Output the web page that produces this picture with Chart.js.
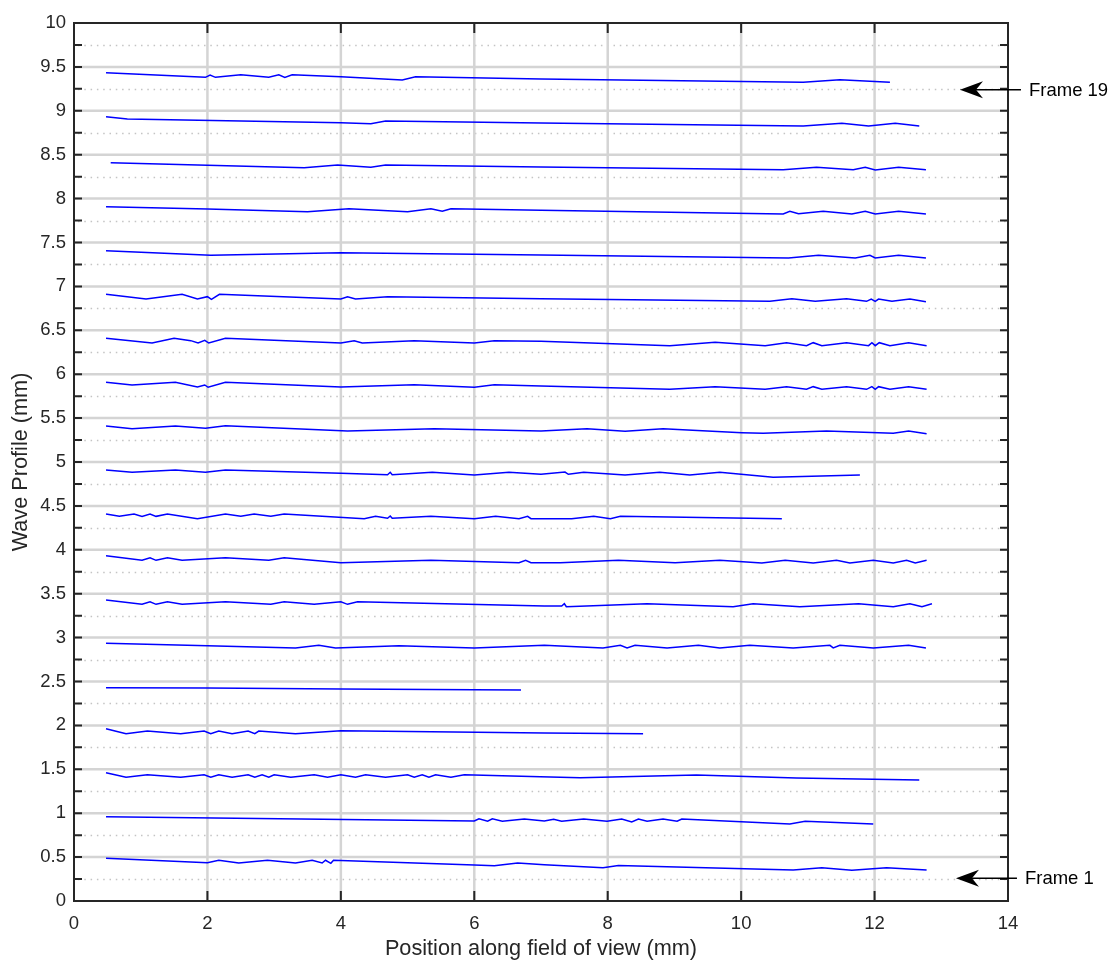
<!DOCTYPE html>
<html>
<head>
<meta charset="utf-8">
<script src="https://cdn.jsdelivr.net/npm/chart.js@4/dist/chart.umd.min.js"></script>
<style>
  html, body { margin: 0; padding: 0; background: #fff; }
  canvas { display: block; }
</style>
</head>
<body>
<canvas id="chart-wave" width="1114" height="963"></canvas>
<script>
// wave profile per frame: [position (mm), height (mm)]
const frame01 = [[0.48,0.486],[2.0,0.436],[2.17,0.464],[2.47,0.433],[2.9,0.464],[3.32,0.433],[3.57,0.464],[3.72,0.433],[3.77,0.464],[3.85,0.429],[3.89,0.464],[6.0,0.41],[6.3,0.402],[6.65,0.433],[7.05,0.413],[7.93,0.379],[8.16,0.405],[10.78,0.353],[11.21,0.379],[11.66,0.349],[12.18,0.379],[12.78,0.353]];
const frame02 = [[0.48,0.96],[6.0,0.911],[6.07,0.937],[6.2,0.908],[6.27,0.937],[6.42,0.908],[6.75,0.934],[7.05,0.911],[7.19,0.931],[7.31,0.908],[7.64,0.934],[7.99,0.908],[8.21,0.934],[8.36,0.9],[8.46,0.934],[8.59,0.908],[8.83,0.934],[9.04,0.908],[9.11,0.934],[10.73,0.877],[10.96,0.908],[11.98,0.877]];
const frame03 = [[0.48,1.461],[0.78,1.409],[1.1,1.438],[1.6,1.409],[1.95,1.438],[2.05,1.409],[2.17,1.438],[2.37,1.409],[2.61,1.438],[2.71,1.409],[2.82,1.438],[2.92,1.409],[3.0,1.438],[3.25,1.409],[3.6,1.438],[3.8,1.409],[4.0,1.438],[4.22,1.409],[4.37,1.438],[4.67,1.409],[5.0,1.438],[5.1,1.409],[5.22,1.438],[5.32,1.409],[5.42,1.438],[5.65,1.409],[5.85,1.438],[6.99,1.416],[7.59,1.404],[9.33,1.435],[10.83,1.401],[12.67,1.378]];
const frame04 = [[0.48,1.962],[0.78,1.905],[1.1,1.936],[1.6,1.905],[1.95,1.936],[2.05,1.905],[2.17,1.936],[2.37,1.905],[2.61,1.936],[2.71,1.905],[2.77,1.936],[3.32,1.905],[4.0,1.94],[7.05,1.913],[8.53,1.905]];
const frame05 = [[0.48,2.43],[2.0,2.425],[4.0,2.415],[6.0,2.407],[6.7,2.404]];
const frame06 = [[0.48,2.935],[2.0,2.908],[3.32,2.882],[3.67,2.912],[3.92,2.882],[4.87,2.908],[6.0,2.882],[7.05,2.912],[7.93,2.882],[8.19,2.912],[8.29,2.882],[8.41,2.912],[8.89,2.882],[9.36,2.912],[9.68,2.882],[10.13,2.912],[10.78,2.882],[11.33,2.912],[11.38,2.882],[11.48,2.912],[11.98,2.882],[12.51,2.912],[12.77,2.882]];
const frame07 = [[0.48,3.428],[1.02,3.379],[1.14,3.409],[1.23,3.379],[1.4,3.409],[1.62,3.379],[2.27,3.409],[2.95,3.379],[3.15,3.409],[3.6,3.379],[4.0,3.409],[4.1,3.379],[4.25,3.409],[7.05,3.36],[7.31,3.36],[7.35,3.386],[7.38,3.352],[8.59,3.386],[9.88,3.352],[10.18,3.386],[10.88,3.352],[11.76,3.386],[12.28,3.352],[12.53,3.386],[12.71,3.352],[12.86,3.386]];
const frame08 = [[0.48,3.933],[1.02,3.88],[1.14,3.91],[1.23,3.88],[1.4,3.91],[1.62,3.88],[2.27,3.91],[2.92,3.88],[3.15,3.91],[4.0,3.853],[5.35,3.88],[6.67,3.853],[6.77,3.88],[6.85,3.853],[7.29,3.853],[8.16,3.88],[9.01,3.853],[9.68,3.88],[10.31,3.85],[10.66,3.88],[11.08,3.85],[11.43,3.88],[11.63,3.85],[11.98,3.88],[12.28,3.85],[12.48,3.88],[12.61,3.85],[12.78,3.88]];
const frame09 = [[0.48,4.408],[0.68,4.381],[0.9,4.408],[1.02,4.381],[1.14,4.408],[1.23,4.381],[1.4,4.408],[1.85,4.354],[2.27,4.408],[2.5,4.381],[2.7,4.408],[2.95,4.381],[3.15,4.408],[4.35,4.354],[4.52,4.381],[4.7,4.359],[4.74,4.385],[4.77,4.359],[5.35,4.381],[6.0,4.354],[6.32,4.381],[6.67,4.354],[6.8,4.381],[6.85,4.354],[7.46,4.354],[7.79,4.381],[8.04,4.354],[8.19,4.381],[10.61,4.354]];
const frame10 = [[0.48,4.909],[0.87,4.883],[1.52,4.909],[1.97,4.883],[2.27,4.909],[4.0,4.871],[4.7,4.855],[4.74,4.883],[4.77,4.855],[5.37,4.883],[6.0,4.852],[6.52,4.883],[7.0,4.86],[7.36,4.886],[7.41,4.86],[7.64,4.883],[8.26,4.852],[8.78,4.883],[9.23,4.852],[9.68,4.883],[10.48,4.826],[11.78,4.852]];
const frame11 = [[0.48,5.41],[0.87,5.379],[1.52,5.41],[1.97,5.384],[2.27,5.413],[4.1,5.353],[5.4,5.379],[7.0,5.353],[7.69,5.379],[8.26,5.35],[8.83,5.379],[10.01,5.334],[10.33,5.327],[11.28,5.353],[12.28,5.327],[12.51,5.353],[12.78,5.322]];
const frame12 = [[0.48,5.908],[0.87,5.877],[1.52,5.908],[1.85,5.854],[1.96,5.877],[2.01,5.851],[2.27,5.908],[4.0,5.854],[5.1,5.88],[6.0,5.851],[6.3,5.88],[7.0,5.866],[8.93,5.828],[9.61,5.858],[10.36,5.828],[10.68,5.858],[10.98,5.828],[11.08,5.858],[11.21,5.828],[11.58,5.858],[11.88,5.828],[11.96,5.858],[12.01,5.828],[12.06,5.858],[12.23,5.828],[12.51,5.858],[12.78,5.828]];
const frame13 = [[0.48,6.409],[1.17,6.355],[1.5,6.409],[1.75,6.382],[1.86,6.355],[1.96,6.386],[2.02,6.355],[2.27,6.409],[4.0,6.355],[4.2,6.382],[4.32,6.355],[5.1,6.382],[6.0,6.355],[6.3,6.382],[7.0,6.375],[8.93,6.325],[9.61,6.363],[10.36,6.325],[10.68,6.359],[10.98,6.325],[11.08,6.359],[11.21,6.325],[11.58,6.359],[11.91,6.325],[11.96,6.359],[12.01,6.325],[12.07,6.359],[12.23,6.325],[12.51,6.359],[12.78,6.325]];
const frame14 = [[0.48,6.91],[1.08,6.856],[1.62,6.91],[1.85,6.856],[2.0,6.883],[2.06,6.853],[2.18,6.91],[4.0,6.856],[4.1,6.883],[4.22,6.856],[4.7,6.883],[7.0,6.86],[10.43,6.83],[10.76,6.86],[11.11,6.83],[11.58,6.86],[11.88,6.83],[11.95,6.856],[12.01,6.83],[12.06,6.856],[12.26,6.83],[12.53,6.856],[12.77,6.826]];
const frame15 = [[0.48,7.407],[2.05,7.354],[4.0,7.384],[7.0,7.358],[10.71,7.324],[11.16,7.354],[11.71,7.324],[11.93,7.354],[12.01,7.324],[12.36,7.354],[12.77,7.324]];
const frame16 = [[0.48,7.908],[2.0,7.882],[3.5,7.851],[4.12,7.885],[5.0,7.851],[5.35,7.885],[5.52,7.855],[5.65,7.885],[7.0,7.867],[10.63,7.825],[10.73,7.855],[10.86,7.828],[11.23,7.855],[11.66,7.825],[11.86,7.855],[12.01,7.825],[12.36,7.855],[12.77,7.825]];
const frame17 = [[0.55,8.409],[2.0,8.379],[3.45,8.352],[3.95,8.383],[4.45,8.357],[4.67,8.383],[7.0,8.36],[10.63,8.329],[11.13,8.357],[11.68,8.329],[11.86,8.357],[12.01,8.326],[12.36,8.357],[12.77,8.329]];
const frame18 = [[0.48,8.933],[0.8,8.907],[4.0,8.865],[4.45,8.853],[4.67,8.884],[7.0,8.861],[10.93,8.827],[11.51,8.858],[11.91,8.827],[12.31,8.858],[12.67,8.827]];
const frame19 = [[0.48,9.434],[1.97,9.381],[2.04,9.408],[2.12,9.381],[2.5,9.411],[2.92,9.381],[3.07,9.411],[3.16,9.381],[3.27,9.411],[4.0,9.388],[4.92,9.351],[5.12,9.388],[7.0,9.362],[10.93,9.325],[11.48,9.354],[12.23,9.325]];

const frames = [frame01, frame02, frame03, frame04, frame05, frame06, frame07, frame08, frame09, frame10,
  frame11, frame12, frame13, frame14, frame15, frame16, frame17, frame18, frame19];

// axis ranges and annotations
const xRange = [0, 14];
const yRange = [0, 10];
const xTickStep = 2;
const yTickStep = 0.5;
const yMinorStep = 0.25;
const noteLabels = ["Frame 19", "Frame 1"];
const noteY = [9.24, 0.26];
const noteTipX = [13.28, 13.22];

const FONT = '"Liberation Sans", Arial, sans-serif';
const INK = "#262626";

const frameStyle = {
  id: "frameStyle",
  beforeDatasetsDraw(chart) {
    const { ctx, chartArea: a, scales: { x, y } } = chart;
    ctx.save();
    ctx.beginPath();
    ctx.rect(a.left, a.top, a.right - a.left, a.bottom - a.top);
    ctx.clip();
    // minor dotted lines
    ctx.strokeStyle = "#c4c4c4";
    ctx.lineWidth = 1.5;
    ctx.setLineDash([1.5, 4.8]);
    for (let v = yRange[0] + yMinorStep; v < yRange[1]; v += yTickStep) {
      const py = Math.round(y.getPixelForValue(v)) + 0.5;
      ctx.beginPath(); ctx.moveTo(a.left + 4, py); ctx.lineTo(a.right, py); ctx.stroke();
    }
    ctx.setLineDash([]);
    ctx.strokeStyle = "#d4d4d4";
    ctx.lineWidth = 2.5;
    for (let v = yRange[0] + yTickStep; v < yRange[1]; v += yTickStep) {
      const py = y.getPixelForValue(v);
      ctx.beginPath(); ctx.moveTo(a.left, py); ctx.lineTo(a.right, py); ctx.stroke();
    }
    for (let v = xRange[0] + xTickStep; v < xRange[1]; v += xTickStep) {
      const px = x.getPixelForValue(v);
      ctx.beginPath(); ctx.moveTo(px, a.top); ctx.lineTo(px, a.bottom); ctx.stroke();
    }
    ctx.restore();
  },
  afterDatasetsDraw(chart) {
    const { ctx, chartArea: a, scales: { x, y } } = chart;
    ctx.save();
    ctx.strokeStyle = INK;
    ctx.lineWidth = 2;
    ctx.strokeRect(a.left, a.top, a.right - a.left, a.bottom - a.top);
    ctx.beginPath();
    for (let v = yRange[0] + yMinorStep; v < yRange[1]; v += yMinorStep) {
      const py = y.getPixelForValue(v);
      ctx.moveTo(a.left, py); ctx.lineTo(a.left + 8, py);
      ctx.moveTo(a.right, py); ctx.lineTo(a.right - 8, py);
    }
    for (let v = xRange[0] + xTickStep; v < xRange[1]; v += xTickStep) {
      const px = x.getPixelForValue(v);
      ctx.moveTo(px, a.bottom); ctx.lineTo(px, a.bottom - 10);
      ctx.moveTo(px, a.top); ctx.lineTo(px, a.top + 10);
    }
    ctx.stroke();

    // arrows with labels
    ctx.fillStyle = "#000";
    ctx.strokeStyle = "#000";
    ctx.lineWidth = 1.5;
    ctx.font = `18.5px ${FONT}`;
    ctx.textBaseline = "middle";
    noteLabels.forEach((label, i) => {
      const tx = x.getPixelForValue(noteTipX[i]);
      const ty = y.getPixelForValue(noteY[i]);
      ctx.beginPath(); ctx.moveTo(tx + 10, ty); ctx.lineTo(tx + 61, ty); ctx.stroke();
      ctx.beginPath();
      ctx.moveTo(tx, ty);
      ctx.lineTo(tx + 23, ty - 8.5);
      ctx.lineTo(tx + 16, ty);
      ctx.lineTo(tx + 23, ty + 8.5);
      ctx.closePath();
      ctx.fill();
      ctx.fillText(label, tx + 69, ty + 1);
    });
    ctx.restore();
  },
};

function isMajor(v) {
  return Math.abs(v / yTickStep - Math.round(v / yTickStep)) < 1e-6;
}

new Chart(document.getElementById("chart-wave"), {
  type: "scatter",
  data: {
    datasets: frames.map((pts, i) => ({
      label: `Frame ${i + 1}`,
      data: pts,
      showLine: true,
      borderColor: "#0000ff",
      borderWidth: 1.5,
      pointRadius: 0,
      tension: 0,
      fill: false,
    })),
  },
  options: {
    responsive: false,
    animation: false,
    devicePixelRatio: 1,
    layout: { padding: { left: 0, right: 106, top: 23, bottom: 0 } },
    plugins: { legend: { display: false }, tooltip: { enabled: false } },
    scales: {
      x: {
        type: "linear",
        min: xRange[0],
        max: xRange[1],
        grid: { display: false, drawTicks: false },
        border: { display: false },
        ticks: { stepSize: xTickStep, padding: 12, color: INK, font: { family: FONT, size: 18.5 }, maxRotation: 0 },
        title: { display: true, text: "Position along field of view (mm)", color: INK, font: { family: FONT, size: 21.7 }, padding: { top: 0, bottom: 1 } },
        afterFit(scale) { scale.height = 62; },
      },
      y: {
        type: "linear",
        min: yRange[0],
        max: yRange[1],
        grid: { display: false, drawTicks: false },
        border: { display: false },
        ticks: {
          stepSize: yTickStep,
          padding: 8,
          autoSkip: false,
          color: INK,
          font: { family: FONT, size: 18.5 },
          callback: (v) => (isMajor(v) ? String(Math.round(v * 100) / 100) : ""),
        },
        title: { display: true, text: "Wave Profile (mm)", color: INK, font: { family: FONT, size: 21.7 }, padding: { top: 8, bottom: 0 } },
        afterFit(scale) { scale.width = 74; },
      },
    },
  },
  plugins: [frameStyle],
});
</script>
</body>
</html>
